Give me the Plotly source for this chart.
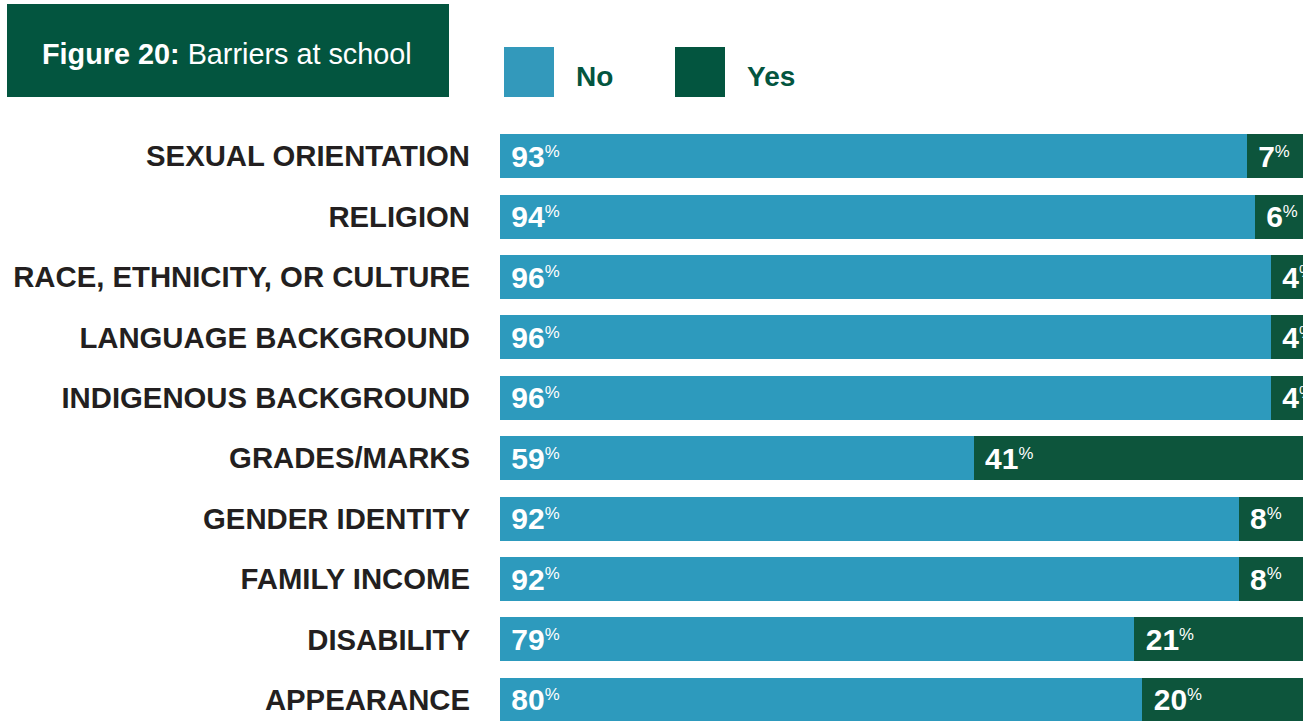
import plotly.graph_objects as go

# Survey responses: share answering No / Yes for each barrier
categories = [
    "SEXUAL ORIENTATION",
    "RELIGION",
    "RACE, ETHNICITY, OR CULTURE",
    "LANGUAGE BACKGROUND",
    "INDIGENOUS BACKGROUND",
    "GRADES/MARKS",
    "GENDER IDENTITY",
    "FAMILY INCOME",
    "DISABILITY",
    "APPEARANCE",
]
no_pct = [93, 94, 96, 96, 96, 59, 92, 92, 79, 80]
yes_pct = [7, 6, 4, 4, 4, 41, 8, 8, 21, 20]

BLUE = "#2D9ABD"
GREEN = "#0D553C"
LEGEND_BLUE = "#3399BB"
BOX_GREEN = "#03553F"
FONT = "Liberation Sans"

W, H = 1313, 721
ML, MR, MT, MB = 500, 10, 126, 0
PW, PH = W - ML - MR, H - MT - MB


def px_x(px):
    return (px - ML) / PW


def px_y(py):
    return 1 - (py - MT) / PH


def value_text(vals):
    # big bold number followed by a small raised percent sign
    return [
        f"<span style='font-size:30px'>\u00a0{v}</span>"
        f"<sup><span style='font-weight:normal'>%</span></sup>"
        for v in vals
    ]


fig = go.Figure()
for name, vals, color in [("No", no_pct, BLUE), ("Yes", yes_pct, GREEN)]:
    fig.add_trace(
        go.Bar(
            y=categories,
            x=vals,
            name=name,
            orientation="h",
            marker=dict(color=color, line=dict(width=0)),
            text=value_text(vals),
            textposition="inside",
            insidetextanchor="start",
            textangle=0,
            constraintext="none",
            cliponaxis=True,
            textfont=dict(family=FONT, size=24, color="white", weight="bold"),
            hoverinfo="skip",
        )
    )

shapes = [
    # title box
    dict(type="rect", xref="paper", yref="paper",
         x0=px_x(7), x1=px_x(449), y0=px_y(97), y1=px_y(4),
         fillcolor=BOX_GREEN, line=dict(width=0), layer="above"),
    # legend swatches
    dict(type="rect", xref="paper", yref="paper",
         x0=px_x(504), x1=px_x(554), y0=px_y(97), y1=px_y(47),
         fillcolor=LEGEND_BLUE, line=dict(width=0)),
    dict(type="rect", xref="paper", yref="paper",
         x0=px_x(675), x1=px_x(725), y0=px_y(97), y1=px_y(47),
         fillcolor=BOX_GREEN, line=dict(width=0)),
]

annotations = [
    dict(text="<b>Figure 20:</b> Barriers at school", xref="paper", yref="paper",
         x=px_x(40), y=px_y(54), xanchor="left", yanchor="middle",
         showarrow=False, font=dict(family=FONT, size=28.8, color="white")),
    dict(text="No", xref="paper", yref="paper",
         x=px_x(574), y=px_y(76), xanchor="left", yanchor="middle",
         showarrow=False, font=dict(family=FONT, size=28, color=BOX_GREEN, weight="bold")),
    dict(text="Yes", xref="paper", yref="paper",
         x=px_x(745), y=px_y(76), xanchor="left", yanchor="middle",
         showarrow=False, font=dict(family=FONT, size=28, color=BOX_GREEN, weight="bold")),
]

fig.update_layout(
    width=W,
    height=H,
    margin=dict(l=ML, r=MR, t=MT, b=MB, pad=0),
    barmode="stack",
    bargap=0.272,
    showlegend=False,
    plot_bgcolor="white",
    paper_bgcolor="white",
    shapes=shapes,
    annotations=annotations,
    xaxis=dict(range=[0, 100], visible=False, fixedrange=True),
    yaxis=dict(
        type="category",
        categoryorder="array",
        categoryarray=categories,
        range=[9.351, -0.5],
        showgrid=False,
        zeroline=False,
        showline=False,
        ticks="",
        ticklabelstandoff=29,
        tickfont=dict(family=FONT, size=29.3, color="#231F20", weight="bold"),
    ),
)

fig.write_html("out.html")
